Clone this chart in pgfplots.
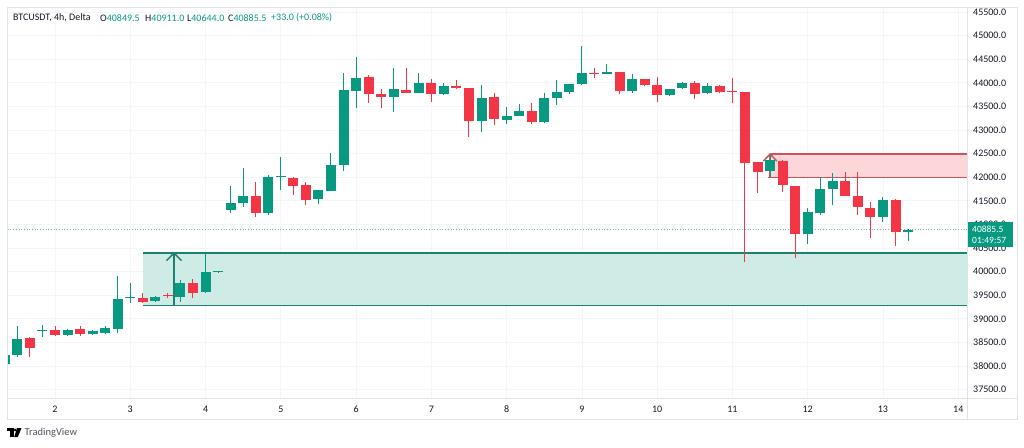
\documentclass[border=0pt]{standalone}
\usepackage{fontspec}
\setmainfont{Carlito}
\usepackage{pgfplots}
\usepackage{pgfplotstable}
\pgfplotsset{compat=1.18}
\definecolor{tvgreen}{RGB}{8,153,129}
\definecolor{tvred}{RGB}{242,54,69}
\definecolor{gbfill}{RGB}{207,235,229}
\definecolor{gbline}{RGB}{30,128,110}
\definecolor{rbfill}{RGB}{252,214,217}
\definecolor{rbline}{RGB}{204,82,92}
\definecolor{txt}{RGB}{19,23,34}
\definecolor{frm}{RGB}{224,227,235}
\definecolor{gridc}{RGB}{243,245,249}
\definecolor{logot}{RGB}{80,83,94}

\pgfplotstableread{
t o h l c
1.3333 38042 38297 38000 38233
1.5 38233 38847 38190 38572
1.8333 38741 38869 38614 38750
2.1667 38657 38784 38636 38763
2.5 38672 38763 38657 38741
2.6667 38706 38847 38678 38798
2.8333 38778 39907 38699 39413
3 39441 39758 39335 39455
3.3333 39377 39483 39356 39468
3.6667 39468 39822 39362 39752
4 39561 40388 39547 39985
4.1667 39990 39995 39990 39995
4.3333 41305 41820 41235 41460
4.5 41460 42188 41375 41601
4.8333 41248 42046 41199 41998
5 41998 42434 41729 42005
5.5 41532 41735 41432 41729
5.6667 41714 42506 41707 42258
5.8333 42258 44201 42138 43847
6 43832 44553 43460 44108
6.5 43693 44307 43388 43862
6.8333 43790 44201 43777 44002
7.1667 43763 44002 43741 43932
7.6667 43197 43953 42964 43671
8 43212 43493 43127 43296
8.1667 43303 43551 43296 43402
8.5 43176 43777 43142 43671
8.6667 43671 44059 43530 43798
8.8333 43798 43975 43762 43968
9 43974 44779 43953 44201
9.3333 44186 44398 44186 44235
9.6667 43832 44186 43777 44074
10.1667 43741 43870 43720 43862
10.3333 43883 44023 43862 43989
10.6667 43777 43989 43762 43932
11.5 42138 42470 42010 42364
12 40790 41341 40585 41256
12.1667 41248 41998 41199 41744
12.3333 41750 42082 41411 41926
13 41150 41574 41057 41517
13.3333 40849.5 40911 40644 40885.5
}\upcandles

\pgfplotstableread{
t o h l c
1.6667 38593 38614 38190 38381
2 38763 38847 38640 38657
2.3333 38778 38847 38636 38672
3.1667 39434 39540 39328 39362
3.5 39488 39547 39441 39478
3.8333 39765 39837 39434 39553
4.6667 41601 41904 41163 41248
5.1667 41989 41995 41623 41813
5.3333 41835 41904 41411 41517
6.1667 44129 44165 43578 43762
6.3333 43762 43862 43460 43693
6.6667 43847 44307 43777 43790
7 44002 44074 43599 43763
7.3333 43932 44059 43862 43883
7.5 43883 43883 42858 43197
7.8333 43693 43777 43106 43227
8.3333 43402 43578 43127 43176
9.1667 44210 44307 44095 44190
9.5 44235 44235 43762 43832
9.8333 44080 44090 43940 43953
10 43953 44116 43599 43741
10.5 43989 44044 43650 43762
10.8333 43932 43953 43777 43811
11 43811 44095 43566 43805
11.1667 43811 43815 40210 42307
11.3333 42328 42330 41659 42116
11.6667 42350 42364 41693 41835
11.8333 41813 41813 40282 40790
12.5 41926 42104 41602 41602
12.6667 41602 42104 41199 41362
12.8333 41354 41481 40705 41150
13.1667 41517 41545 40542 40845
}\downcandles

\begin{document}
\begin{tikzpicture}
\useasboundingbox (0pt,0pt) rectangle (1024pt,-447pt);
\begin{axis}[
  at={(7pt,-398pt)}, anchor=south west,
  scale only axis, width=960.7pt, height=391pt,
  xmin=1.3623, xmax=14.1256, ymin=37322, ymax=45606,
  axis line style={draw=none},
  major tick length=0pt,
  xtick={2,...,14},
  ytick={37500,38000,...,45500},
  scaled y ticks=false,
  grid=major, major grid style={gridc, line width=0.7pt},
  yticklabel pos=right,
  /pgf/number format/assume math mode=true,
  yticklabel={\pgfmathprintnumber[fixed, fixed zerofill, precision=1, 1000 sep={}]{\tick}},
  y tick label style={anchor=west, inner sep=0pt, xshift=5.3pt, font=\fontsize{10}{12}\selectfont, text=txt},
  x tick label style={anchor=center, inner sep=0pt, yshift=-11pt, font=\fontsize{10}{12}\selectfont, text=txt},
  clip=true,
]
% green zone
\addplot[fill=gbfill, draw=none, forget plot] coordinates {(3.1667,39278) (14.5,39278) (14.5,40394) (3.1667,40394)} -- cycle;
\addplot[gbline, line width=1.5pt, forget plot] coordinates {(3.1667,40394) (14.5,40394)};
\addplot[gbline, line width=1.5pt, forget plot] coordinates {(3.1667,39278) (14.5,39278)};
\addplot[gbline, line width=1.5pt, forget plot] coordinates {(3.581,39278) (3.581,40394)};
\addplot[gbline, line width=1.5pt, forget plot] coordinates {(3.481,40231) (3.581,40394) (3.681,40231)};
% red zone
\addplot[fill=rbfill, draw=none, forget plot] coordinates {(11.5,41989) (14.5,41989) (14.5,42491) (11.5,42491)} -- cycle;
\addplot[rbline, line width=1.5pt, forget plot] coordinates {(11.5,42491) (14.5,42491)};
\addplot[rbline, line width=1.5pt, forget plot] coordinates {(11.47,41989) (14.5,41989)};
\addplot[rbline, line width=1.5pt, forget plot] coordinates {(11.5,41989) (11.5,42491)};
\addplot[rbline, line width=1.5pt, forget plot] coordinates {(11.41,42341) (11.5,42491) (11.59,42341)};
% current price line
\addplot[tvgreen!60, dotted, line width=0.7pt, forget plot] coordinates {(1.3,40885.5) (14.5,40885.5)};
% wicks
\addplot[draw=none, mark=none, forget plot, error bars/.cd, y dir=plus, y explicit, error mark=none,
  error bar style={draw=tvgreen, line width=1pt, solid}]
  table[x=t, y=l, y error expr=\thisrow{h}-\thisrow{l}] {\upcandles};
\addplot[draw=none, mark=none, forget plot, error bars/.cd, y dir=plus, y explicit, error mark=none,
  error bar style={draw=tvred, line width=1pt, solid}]
  table[x=t, y=l, y error expr=\thisrow{h}-\thisrow{l}] {\downcandles};
% bodies
\addplot[draw=none, mark=none, forget plot, error bars/.cd, y dir=plus, y explicit, error mark=none,
  error bar style={draw=tvgreen, line width=10pt, solid}]
  table[x=t, y=o, y error expr={max(\thisrow{c}-\thisrow{o},21)}] {\upcandles};
\addplot[draw=none, mark=none, forget plot, error bars/.cd, y dir=plus, y explicit, error mark=none,
  error bar style={draw=tvred, line width=10pt, solid}]
  table[x=t, y=c, y error expr={max(\thisrow{o}-\thisrow{c},21)}] {\downcandles};
\end{axis}
% frame
\draw[frm, line width=0.8pt] (7pt,-7pt) rectangle (1017pt,-419pt);
\draw[frm, line width=0.8pt] (967.7pt,-7pt) -- (967.7pt,-419pt);
\draw[frm, line width=0.8pt] (7pt,-398pt) -- (1017pt,-398pt);
% price tag
\fill[tvgreen] (967.7pt,-222pt) rectangle (1013pt,-247pt);
\node[anchor=west, inner sep=0pt, text=white, font=\fontsize{9.5}{11}\selectfont] at (972pt,-229pt) {40885.5};
\node[anchor=west, inner sep=0pt, text=white, font=\fontsize{9.5}{11}\selectfont] at (972pt,-240pt) {01:49:57};
% header
\begin{scope}[every node/.style={anchor=west, inner sep=0pt, font=\fontsize{10}{12}\selectfont}]
\node[text=txt] at (13pt,-18pt) {BTCUSDT, 4h, Delta};
\node at (100pt,-18pt) {\textcolor{txt}{O}\textcolor{tvgreen}{40849.5}};
\node at (145pt,-18pt) {\textcolor{txt}{H}\textcolor{tvgreen}{40911.0}};
\node at (187pt,-18pt) {\textcolor{txt}{L}\textcolor{tvgreen}{40644.0}};
\node at (228pt,-18pt) {\textcolor{txt}{C}\textcolor{tvgreen}{40885.5}};
\node[text=tvgreen] at (271pt,-18pt) {+33.0 (+0.08\%)};
\end{scope}
% TradingView logo
\fill[black] (7pt,-428pt) rectangle (13.5pt,-431pt);
\fill[black] (10pt,-428pt) rectangle (13.5pt,-437pt);
\fill[black] (15.2pt,-430pt) circle (1.5pt);
\fill[black] (17pt,-428pt) -- (21.5pt,-428pt) -- (17.8pt,-437pt) -- (14.2pt,-437pt) -- cycle;
\node[anchor=west, inner sep=0pt, text=logot, font=\fontsize{10.5}{12}\selectfont] at (24.5pt,-432.5pt) {TradingView};
\end{tikzpicture}
\end{document}
